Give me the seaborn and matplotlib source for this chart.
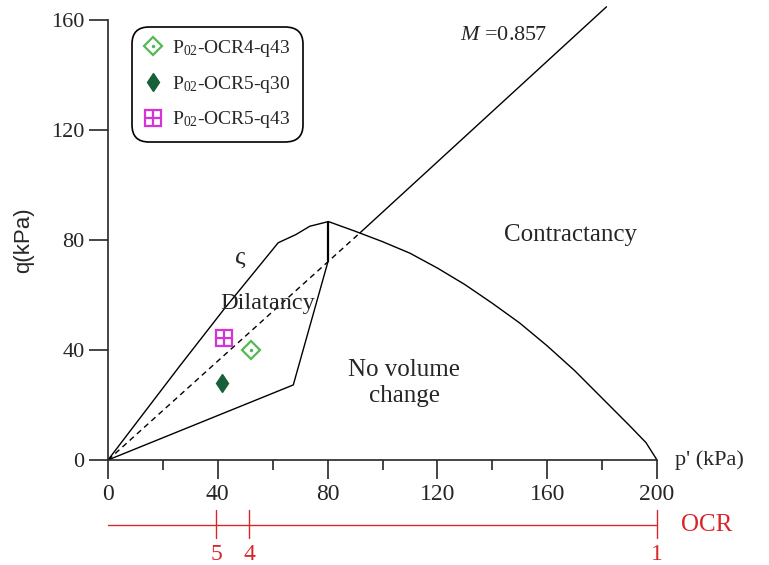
import numpy as np
import pandas as pd
import matplotlib
matplotlib.use("Agg")
import matplotlib.pyplot as plt
import seaborn as sns
from matplotlib.legend_handler import HandlerTuple

# State boundary data (p', q in kPa)
upper_p = [0, 26, 42, 62, 68.5, 73.5, 80.3]
upper_q = [0, 34, 54.5, 79, 82, 85, 86.7]
lower_p = [0, 67.5, 80.3]
lower_q = [0, 27.3, 72.7]
cut_p = [80.3, 80.3]
cut_q = [72.7, 86.7]
right_p = [80.3, 90, 100, 110, 120, 130, 140, 150, 160, 170, 180, 190, 196, 200]
right_q = [86.7, 83.2, 79.4, 75.2, 69.8, 63.8, 57.0, 49.8, 41.5, 32.5, 22.5, 12.5, 6.3, 0]

# critical state line
csl_dash_p = [0, 91.8]
csl_dash_q = [0, 82.6]
csl_p = [91.8, 181.6]
csl_q = [82.6, 164.8]

# test points
pt_labels = ["P$_{02}$-OCR4-q43", "P$_{02}$-OCR5-q30", "P$_{02}$-OCR5-q43"]
pt_p = [52.1, 41.6, 42.4]
pt_q = [40.0, 28.1, 44.2]

# OCR scale
ocr_vals = ["5", "4", "1"]
ocr_p = [39.5, 51.5, 200]

x_ticks = [0, 40, 80, 120, 160, 200]
y_ticks = [0, 40, 80, 120, 160]

sns.set_style("ticks")
plt.rcParams["font.family"] = ["Liberation Serif", "DejaVu Serif"]
plt.rcParams["mathtext.fontset"] = "custom"
plt.rcParams["mathtext.rm"] = "Liberation Serif"
plt.rcParams["mathtext.it"] = "Liberation Serif:italic"

fig = plt.figure(figsize=(7.69, 5.65), dpi=100)
ax = fig.add_axes([108 / 769, 105 / 565, 549 / 769, 440 / 565])

lw = 1.0
for xs, ys in [(upper_p, upper_q), (lower_p, lower_q), (right_p, right_q)]:
    sns.lineplot(x=xs, y=ys, sort=False, estimator=None, color="black", lw=lw, ax=ax)
sns.lineplot(x=cut_p, y=cut_q, sort=False, estimator=None, color="black", lw=1.6, ax=ax)
sns.lineplot(x=csl_dash_p, y=csl_dash_q, sort=False, estimator=None, color="black",
             lw=lw, ax=ax, linestyle=(0, (4, 3)))
ax.plot(csl_p, csl_q, color="black", lw=lw, clip_on=False)

# markers
light_g = "#55b855"
dark_g = "#17603a"
mag = "#d633d6"
h1a, = ax.plot(pt_p[0], pt_q[0], "D", ms=9, mfc="none", mec=light_g, mew=1.6, ls="none")
h1b, = ax.plot(pt_p[0], pt_q[0], ".", ms=3, color=light_g, ls="none")
h2, = ax.plot(pt_p[1], pt_q[1], "d", ms=9.5, color=dark_g, mec=dark_g, ls="none")
h3a, = ax.plot(pt_p[2], pt_q[2], "s", ms=11, mfc="none", mec=mag, mew=1.6, ls="none")
h3b, = ax.plot(pt_p[2], pt_q[2], "+", ms=11, color=mag, mew=1.6, ls="none")

leg = ax.legend([(h1a, h1b), h2, (h3a, h3b)], pt_labels,
                handler_map={tuple: HandlerTuple(ndivide=1)},
                loc="upper left", bbox_to_anchor=(0.043, 0.985), fontsize=14,
                frameon=True, fancybox=True, edgecolor="black", framealpha=1,
                handlelength=1.0, handletextpad=0.5, labelspacing=0.75,
                borderpad=0.6, borderaxespad=0)
leg.get_frame().set_linewidth(1.2)
leg.get_frame().set_boxstyle("round,pad=0,rounding_size=0.9")

# axes
ax.set_xlim(0, 200)
ax.set_ylim(0, 160)
sns.despine(ax=ax)
ax.spines["left"].set_linewidth(1.2)
ax.spines["bottom"].set_linewidth(1.2)
ax.set_xticks(x_ticks)
ax.set_xticks([20, 60, 100, 140, 180], minor=True)
ax.set_yticks(y_ticks)
ax.tick_params(axis="x", which="major", direction="out", length=14, width=1.2,
               labelsize=17, pad=3)
ax.tick_params(axis="x", which="minor", direction="out", length=7, width=1.2)
ax.tick_params(axis="y", which="major", direction="out", length=13.5, width=1.2,
               labelsize=16, pad=3.5)
ax.set_ylabel("q(kPa)", fontsize=16, family=["Liberation Sans", "DejaVu Sans"])
ax.yaxis.set_label_coords(-0.135, 0.5)
ax.set_xlabel("")

# region labels
ax.text(48, 73.5, "ς", fontsize=19, ha="center", va="center")
ax.text(58, 57, "Dilatancy", fontsize=17.5, ha="center", va="center")
ax.text(108, 28, "No volume\nchange", fontsize=18, ha="center", va="center",
        linespacing=1.2)
ax.text(168.5, 82, "Contractancy", fontsize=18, ha="center", va="center")
ax.text(128.2, 154.5, "$M$ =0.857", fontsize=16, ha="left", va="center")
ax.text(206.5, 0, "p' (kPa)", fontsize=16, ha="left", va="center", clip_on=False)

# OCR scale
red = "#d9262b"
ax.plot([0, 200], [-23.6, -23.6], color=red, lw=1.0, clip_on=False)
for p, lab in zip(ocr_p, ocr_vals):
    ax.plot([p, p], [-18.2, -28.4], color=red, lw=1.0, clip_on=False)
    ax.text(p, -34.5, lab, color=red, fontsize=17, ha="center", va="center", clip_on=False)
ax.text(208.7, -23.6, "OCR", color=red, fontsize=18, ha="left", va="center", clip_on=False)

fig.savefig("out.png", dpi=100)
